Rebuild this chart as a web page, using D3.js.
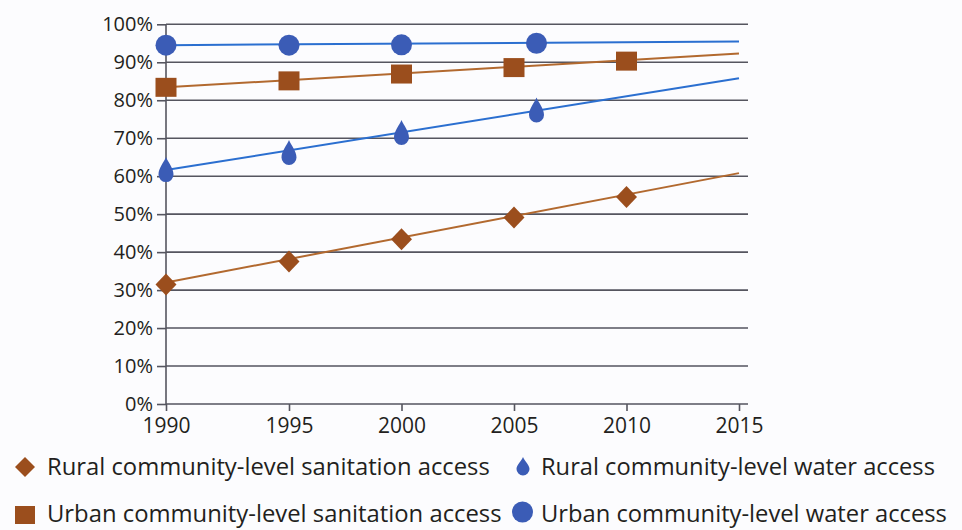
<!DOCTYPE html>
<html><head><meta charset="utf-8">
<script src="https://cdn.jsdelivr.net/npm/d3@7"></script>
<style>
html,body{margin:0;padding:0;background:#fcfcfe;}
svg{display:block;}
text{font-family:"Open Sans",sans-serif;fill:#231f20;}
</style></head>
<body>
<svg id="chart" width="962" height="530"></svg>
<script>
// ---- data ----
const yearTicks = [1990, 1995, 2000, 2005, 2010, 2015];
const pctTicks = [0, 10, 20, 30, 40, 50, 60, 70, 80, 90, 100];

const ruralSanYears = [1990, 1995, 2000, 2005, 2010];
const ruralSanValues = [31.5, 37.5, 43.4, 49.1, 54.5];
const ruralSanTrend = [32.0, 60.8];   // 1990, 2015

const ruralWatYears = [1990, 1995, 2000, 2006];
const ruralWatValues = [61.6, 66.1, 71.4, 77.3];
const ruralWatTrend = [61.6, 85.8];

const urbanSanYears = [1990, 1995, 2000, 2005, 2010];
const urbanSanValues = [83.4, 85.1, 86.9, 88.6, 90.3];
const urbanSanTrend = [83.4, 92.3];

const urbanWatYears = [1990, 1995, 2000, 2006];
const urbanWatValues = [94.5, 94.5, 94.6, 95.0];
const urbanWatTrend = [94.5, 95.5];

const trendYears = [1990, 2015];

const seriesNames = [
  "Rural community-level sanitation access",
  "Rural community-level water access",
  "Urban community-level sanitation access",
  "Urban community-level water access"
];

// ---- styles ----
const BROWN = "#9b4e1d", BROWN_LINE = "#b2692f";
const BLUE = "#3b5cb6", BLUE_LINE = "#2b6fd0";
const GRID = "#55555f";
const FONT = "'Open Sans', sans-serif";

const svg = d3.select("#chart");
const x = d3.scaleLinear().domain([1990, 1995, 2015]).range([166, 289, 739]);
const y = d3.scaleLinear().domain([0, 100]).range([404, 24.3]);
const xGridEnd = 748;

// grid lines
svg.append("g").selectAll("line").data(pctTicks.filter(d => d > 0)).join("line")
  .attr("x1", x(1990)).attr("x2", xGridEnd)
  .attr("y1", d => y(d)).attr("y2", d => y(d))
  .attr("stroke", GRID).attr("stroke-width", 1.6);

// y axis
const yAxis = d3.axisLeft(y).tickValues(pctTicks).tickFormat(d => d + "%").tickSize(9).tickPadding(4);
const gy = svg.append("g").attr("transform", `translate(${x(1990)},0)`).call(yAxis);
gy.select(".domain").attr("stroke", GRID).attr("stroke-width", 1.6).attr("d", `M0,${y(0)}V${y(100)}`);
gy.selectAll(".tick line").attr("stroke", GRID).attr("stroke-width", 1.6);
gy.selectAll(".tick text").attr("font-size", 20).attr("font-family", FONT).attr("fill", "#231f20");

// x axis
const xAxis = d3.axisBottom(x).tickValues(yearTicks).tickFormat(d3.format("d")).tickSize(7).tickSizeOuter(0).tickPadding(7);
const gx = svg.append("g").attr("transform", `translate(0,${y(0)})`).call(xAxis);
gx.select(".domain").attr("stroke", GRID).attr("stroke-width", 1.6).attr("d", `M${x(1990)},0H${xGridEnd}`);
gx.selectAll(".tick line").attr("stroke", GRID).attr("stroke-width", 1.6);
gx.selectAll(".tick text").attr("font-size", 21).attr("font-family", FONT).attr("fill", "#231f20");

// shapes
const dropPath = "M0,-13 C2,-8 7.5,-2 7.5,4.5 A7.5,7.5 0 1 1 -7.5,4.5 C-7.5,-2 -2,-8 0,-13Z";
const diamondPath = "M0,-11 L10.5,0 L0,11 L-10.5,0Z";
const squarePath = "M-10.5,-9.5 H10.5 V9.5 H-10.5Z";
function circlePath(r){ return `M${r},0 A${r},${r} 0 1 1 ${-r},0 A${r},${r} 0 1 1 ${r},0Z`; }

const series = [
  {years: ruralSanYears, values: ruralSanValues, trend: ruralSanTrend, color: BROWN, line: BROWN_LINE, shape: diamondPath},
  {years: ruralWatYears, values: ruralWatValues, trend: ruralWatTrend, color: BLUE, line: BLUE_LINE, shape: dropPath},
  {years: urbanSanYears, values: urbanSanValues, trend: urbanSanTrend, color: BROWN, line: BROWN_LINE, shape: squarePath},
  {years: urbanWatYears, values: urbanWatValues, trend: urbanWatTrend, color: BLUE, line: BLUE_LINE, shape: circlePath(10.5)}
];

const lineGen = d3.line().x(d => x(d[0])).y(d => y(d[1]));
series.forEach(s => {
  svg.append("path")
    .attr("d", lineGen(trendYears.map((t, i) => [t, s.trend[i]])))
    .attr("fill", "none").attr("stroke", s.line).attr("stroke-width", 2);
});
series.forEach(s => {
  svg.append("g").selectAll("path").data(s.years.map((t, i) => [t, s.values[i]])).join("path")
    .attr("d", s.shape)
    .attr("transform", d => `translate(${x(d[0])},${y(d[1])})`)
    .attr("fill", s.color);
});

// legend: [markerX, markerY, textX, baseline, textEnd]
const legendPos = [[25, 467, 47, 475, 490], [523, 466, 541, 475, 935], [25, 515, 47, 522, 502], [522.5, 512, 541, 522, 947]];
const legendShapes = [
  "M0,-10 L10,0 L0,10 L-10,0Z",
  "M0,-9 C1.5,-5 6.5,-1 6.5,3 A6.5,6.5 0 1 1 -6.5,3 C-6.5,-1 -1.5,-5 0,-9Z",
  "M-10,-9 H10 V9 H-10Z",
  circlePath(10.5)
];
const lg = svg.append("g");
seriesNames.forEach((name, i) => {
  const p = legendPos[i];
  lg.append("path").attr("d", legendShapes[i]).attr("transform", `translate(${p[0]},${p[1]})`).attr("fill", series[i].color);
  const t = lg.append("text").attr("x", p[2]).attr("y", p[3]).attr("font-size", 22).attr("font-family", FONT).text(name);
  const w = t.node().getComputedTextLength();
  if (w > 0) t.attr("font-size", 22 * (p[4] - p[2]) / w);
});
</script>
</body></html>
